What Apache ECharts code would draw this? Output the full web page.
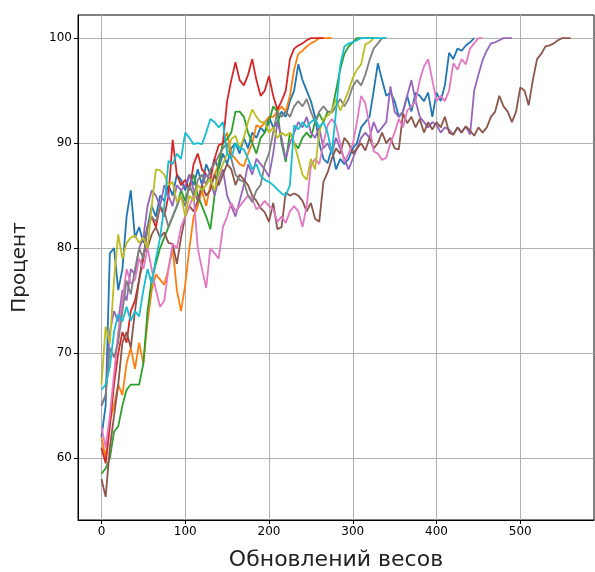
<!DOCTYPE html>
<html>
<head>
<meta charset="utf-8">
<script src="https://cdn.jsdelivr.net/npm/echarts@6/dist/echarts.min.js"></script>
<style>
  html, body { margin: 0; padding: 0; background: #fff; }
  #chart { width: 595px; height: 572px; }
</style>
</head>
<body>
<div id="chart"></div>
<script>
// readings every 5 weight updates, one array per run
var step = 5;
var xTicks = [0, 100, 200, 300, 400, 500];
var yTicks = [60, 70, 80, 90, 100];

var run0 = [62, 65, 79.5, 80, 76, 78, 83, 85.5, 81, 82, 80.5, 82, 84, 83, 85, 84.5, 86, 85, 87, 86.5,
  85.5, 87, 86, 87.5, 86, 88, 87, 88.5, 87.5, 89, 88, 89.5, 90, 89, 90.5, 89.5, 91, 90.5, 91.5, 91,
  92.5, 91.5, 92, 93, 92.5, 94, 95, 97.5, 96, 95, 94, 92.5, 90, 88.5, 88.1, 89.5, 87.5, 88.5, 88, 88.5,
  89.5, 90, 91.5, 92, 92.5, 95, 97.6, 96, 94.5, 94.8, 94, 92.5, 93, 94.5, 93, 94.8, 94.5, 94, 94.8, 92.5,
  94.8, 94, 95.5, 98.6, 98, 99, 98.8, 99.3, 99.6, 100];
var run1 = [62, 60, 63.5, 65, 67, 66, 69, 70.5, 68.5, 71, 69, 73, 76, 77.5, 77, 76.5, 78, 80, 76, 74,
  76.5, 80, 83, 84, 85.5, 84, 86, 87, 88, 90, 91, 89, 88.5, 88, 87.8, 89, 90, 91.7, 91.5, 92,
  92.5, 92.5, 93, 93.5, 93, 94.5, 97, 98.5, 98.8, 99.2, 99.5, 99.7, 100, 100, 100, 100];
var run2 = [58.5, 59, 60, 62.5, 63, 65, 66.5, 67, 67, 67, 69, 74, 77, 78.5, 80, 81, 82, 83, 84, 85.5,
  84.5, 86, 87, 85, 84, 83, 81.8, 85, 88, 90, 90.4, 91, 93, 93, 92.5, 91, 90, 89, 90.5, 91,
  92, 93.5, 93, 90, 88.2, 91, 90, 89.5, 90.5, 91, 90.5, 92, 92.8, 92, 93, 93, 95, 97, 98.5, 99.2,
  99.6, 100, 100, 100, 100, 100];
var run3 = [61, 59.5, 63, 67, 70, 72, 71, 74, 75, 77, 79, 82, 83, 82, 84, 83, 85, 90.3, 87, 86,
  86.5, 85.5, 88, 89, 87.5, 87, 86.5, 88.5, 89.8, 90, 94, 96, 97.7, 96, 95.5, 96.5, 98, 96, 94.5, 95,
  96.4, 94.5, 93.2, 94, 95, 98, 99, 99.3, 99.5, 99.8, 100, 100, 100, 100];
var run4 = [65, 66, 72, 74, 73, 76, 75, 78, 77.5, 80, 81, 84, 85.5, 85, 84, 86, 85, 84, 86, 85.5,
  86, 87, 85.5, 84.5, 86, 87, 86.5, 85, 86.5, 87.5, 85, 84, 83, 84.5, 86, 88, 87, 88.5, 88, 87.5,
  86.8, 89, 92, 90.5, 88.5, 90, 91, 92, 91.5, 92.5, 91, 90.5, 91.5, 89.5, 90, 89, 90.5, 89.5, 88.5, 87.5,
  88.5, 89.5, 90.5, 91, 90.5, 92, 91, 91.5, 92, 95.4, 93, 92.5, 93, 94.5, 96, 94, 92.5, 92, 91.5, 92,
  91.7, 91, 91.5, 91.3, 90.8, 91.5, 91, 91.6, 90.8, 95, 96.5, 97.9, 98.8, 99.5, 99.6, 99.8, 100, 100, 100];
var run5 = [58, 56.3, 61, 64, 67, 71, 72, 70.5, 74, 77, 79.5, 80, 81.3, 82, 81, 81.5, 80.5, 80.4, 78.5, 81,
  83, 84, 83.5, 84.5, 86, 85, 85.5, 87, 86, 87, 88, 87.5, 86, 87, 86.5, 86, 85, 84.5, 83.8, 83.4,
  82.5, 84.3, 81.8, 82, 85.3, 85, 85.2, 85, 84.5, 83.5, 84.3, 82.8, 82.5, 86.3, 87.2, 88.5, 89.5, 89, 90.5, 90,
  89, 89.5, 90, 89.3, 90.5, 89.5, 90, 91, 90, 90.5, 89.5, 89.4, 92.8, 91.9, 92.5, 91.5, 92.3, 91, 92, 91.3,
  92, 91.5, 92.5, 91, 90.8, 91.5, 91, 91.6, 91.2, 90.7, 91.5, 91, 91.5, 92.5, 93, 94.5, 93.5, 93, 92, 93,
  95.3, 95, 93.6, 96, 98, 98.5, 99.2, 99.3, 99.5, 99.8, 100, 100, 100];
var run6 = [63, 61, 64, 68, 72, 75, 78, 76.6, 77, 79, 78, 80, 78, 76, 74.4, 75, 78, 80.4, 80, 82,
  83, 84, 85, 80, 78, 76.2, 80, 79.5, 79, 82, 83, 84.3, 83.5, 84, 84.5, 85, 84.7, 83.7, 84, 84.5,
  84, 83.7, 82.5, 83, 82.4, 83.5, 84, 83.5, 82, 84, 87.8, 88.5, 88, 90, 91.7, 92.3, 91.7, 90, 88.2, 89,
  89.9, 92, 94.5, 93.8, 91.6, 89.2, 89, 88.4, 88.6, 90, 91, 92.3, 91.5, 93.1, 93.5, 94, 96, 97.3, 98, 96,
  94, 94.5, 94, 95, 97.6, 97, 98, 97.5, 99, 99.5, 100, 100];
var run7 = [65, 66, 70.5, 69.6, 71, 74, 76.9, 75.6, 78, 80, 79, 82, 83, 82.5, 84, 83.5, 82, 83, 84, 85,
  84, 86, 85, 86.5, 87, 86, 87.5, 88, 88.8, 89.5, 90, 88.5, 87, 86.5, 86.3, 85, 84.4, 85.5, 86, 88,
  89, 91, 93, 92.5, 93, 92.5, 93.5, 94, 93.5, 94.2, 93, 92, 93, 93.5, 93, 92.9, 93.5, 94.2, 93.5, 94.2,
  95.4, 96, 95.5, 96.5, 97.9, 99, 99.5, 100, 100];
var run8 = [67, 72.5, 70.9, 77, 81.3, 79, 80.5, 81, 81.2, 80.5, 81, 80, 84, 87.5, 87.4, 87, 86, 86.3, 84.4, 85,
  83, 85, 84.5, 86, 85.5, 86, 86.6, 85.5, 87, 88, 89, 90.4, 90.7, 89.5, 90.5, 92, 93.2, 92.5, 92, 92,
  91, 91.5, 90.5, 91, 90.7, 91, 90, 88.5, 87, 86.5, 88.5, 87.5, 91, 92.3, 92.6, 93, 94.2, 93.1, 94, 95,
  96.2, 97, 97.5, 99.4, 99.6, 100, 100];
var run9 = [66.5, 67, 68.7, 72, 73.7, 73, 74.4, 73.1, 74, 73.5, 76, 78, 76.6, 79, 81, 84, 88.3, 88, 89, 88.5,
  91, 90.5, 89.9, 90, 89.9, 91, 92.3, 92, 91.5, 92, 89, 88.5, 90, 89.5, 89.4, 88.5, 87.5, 88, 86.9, 86.5,
  86.3, 86, 85.6, 85.2, 85, 86, 91.7, 91.3, 92, 91.5, 92, 92.3, 91.5, 92, 91, 89, 93, 97.4, 99.2, 99.5,
  99.6, 99.8, 100, 100, 100, 100, 100, 100, 100];

var runs = [run0, run1, run2, run3, run4, run5, run6, run7, run8, run9];
var colors = ['#1f77b4', '#ff7f0e', '#2ca02c', '#d62728', '#9467bd',
  '#8c564b', '#e377c2', '#7f7f7f', '#bcbd22', '#17becf'];

var chart = echarts.init(document.getElementById('chart'));

var seriesList = runs.map(function (ys, k) {
  return {
    type: 'line',
    data: ys.map(function (y, i) { return [i * step, y]; }),
    showSymbol: false,
    symbol: 'none',
    lineStyle: { color: colors[k], width: 1.8 },
    animation: false
  };
});

var tickText = { color: '#000', fontSize: 12, fontFamily: 'DejaVu Sans' };

chart.setOption({
  animation: false,
  grid: {
    left: 78, top: 15, right: 1, bottom: 52,
    containLabel: false,
    outerBoundsMode: 'none',
    show: true, borderColor: '#000', borderWidth: 1, backgroundColor: 'transparent'
  },
  xAxis: {
    type: 'value',
    min: -28, max: 588,
    name: 'Обновлений весов',
    nameLocation: 'middle',
    nameGap: 29,
    nameTextStyle: { fontSize: 22, color: '#222', fontFamily: 'DejaVu Sans' },
    axisLine: { show: true, onZero: false, lineStyle: { color: '#000' } },
    axisTick: { show: true, length: 4, customValues: xTicks, lineStyle: { color: '#000' } },
    axisLabel: Object.assign({ customValues: xTicks, margin: 6 }, tickText),
    splitLine: { show: true, lineStyle: { color: '#b0b0b0', width: 1 } }
  },
  yAxis: {
    type: 'value',
    min: 54.1, max: 102.2,
    name: 'Процент',
    nameLocation: 'middle',
    nameGap: 48,
    nameTextStyle: { fontSize: 20, color: '#222', fontFamily: 'DejaVu Sans' },
    axisLine: { show: true, onZero: false, lineStyle: { color: '#000' } },
    axisTick: { show: true, length: 4, customValues: yTicks, lineStyle: { color: '#000' } },
    axisLabel: Object.assign({ customValues: yTicks, margin: 6 }, tickText),
    splitLine: { show: true, lineStyle: { color: '#b0b0b0', width: 1 } }
  },
  series: seriesList
});
</script>
</body>
</html>
